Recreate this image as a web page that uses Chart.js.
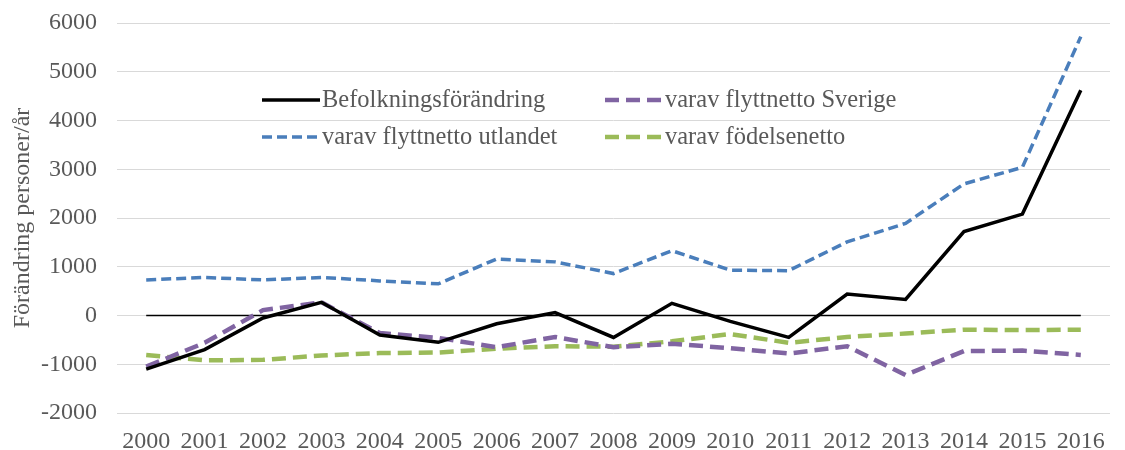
<!DOCTYPE html>
<html>
<head>
<meta charset="utf-8">
<script src="https://cdn.jsdelivr.net/npm/chart.js@4"></script>
<style>
  html, body { margin: 0; padding: 0; background: #fff; }
  #wrap { width: 1125px; height: 450px; }
</style>
</head>
<body>
<div id="wrap"><canvas id="chart" width="1125" height="450"></canvas></div>
<script>
const years = ["2000","2001","2002","2003","2004","2005","2006","2007","2008","2009","2010","2011","2012","2013","2014","2015","2016"];
const befolkning = [-1100, -700, -50, 270, -400, -550, -170, 60, -450, 250, -120, -450, 440, 330, 1720, 2080, 4620];
const flyttSverige = [-1050, -560, 110, 270, -360, -460, -650, -440, -650, -580, -670, -780, -630, -1220, -730, -720, -810];
const flyttUtland = [730, 780, 730, 780, 710, 650, 1160, 1100, 860, 1330, 930, 920, 1510, 1890, 2700, 3040, 5720];
const fodelsenetto = [-810, -920, -910, -820, -770, -760, -680, -630, -640, -530, -380, -560, -440, -370, -290, -300, -290];
const zeroLine = [0, 0, 0, 0, 0, 0, 0, 0, 0, 0, 0, 0, 0, 0, 0, 0, 0];
const yTicks = [-2000, -1000, 0, 1000, 2000, 3000, 4000, 5000, 6000];

const serif = "'Liberation Serif', 'Times New Roman', serif";
const textColor = "#595959";

// legend drawn inside the plot, 2 x 2 like the Excel original
const insideLegend = {
  id: "insideLegend",
  afterDatasetsDraw(chart) {
    const ctx = chart.ctx;
    const cols = [262, 605];
    const rows = [100, 137];
    const items = chart.data.datasets.filter(d => d.label);
    ctx.save();
    ctx.font = "24.5px " + serif;
    ctx.textBaseline = "middle";
    ctx.fillStyle = textColor;
    items.forEach((ds, i) => {
      const x = cols[i % 2];
      const y = rows[Math.floor(i / 2)];
      ctx.beginPath();
      ctx.strokeStyle = ds.borderColor;
      ctx.lineWidth = ds.borderWidth;
      ctx.setLineDash(ds.borderDash || []);
      ctx.moveTo(x, y);
      ctx.lineTo(x + 58, y);
      ctx.stroke();
      ctx.setLineDash([]);
      ctx.fillText(ds.label, x + 60, y + 1);
    });
    ctx.restore();
  }
};

const ctx = document.getElementById("chart").getContext("2d");
new Chart(ctx, {
  type: "line",
  data: {
    labels: years,
    datasets: [
      { label: "", data: zeroLine, borderColor: "#000", borderWidth: 1.5, order: 5 },
      { label: "Befolkningsförändring", data: befolkning, borderColor: "#000000", borderWidth: 3.5 },
      { label: "varav flyttnetto Sverige", data: flyttSverige, borderColor: "#8064a2", borderWidth: 4.5, borderDash: [14, 7] },
      { label: "varav flyttnetto utlandet", data: flyttUtland, borderColor: "#4a7ebb", borderWidth: 3.5, borderDash: [10, 5] },
      { label: "varav födelsenetto", data: fodelsenetto, borderColor: "#9bbb59", borderWidth: 4.5, borderDash: [14, 7] }
    ]
  },
  options: {
    responsive: false,
    animation: false,
    layout: { padding: { left: 0, top: 23, right: 15, bottom: 0 } },
    elements: {
      point: { radius: 0, hoverRadius: 0 },
      line: { tension: 0, fill: false, borderCapStyle: "butt" }
    },
    plugins: {
      legend: { display: false },
      tooltip: { enabled: false }
    },
    scales: {
      x: {
        offset: true,
        grid: { display: false },
        border: { display: false },
        ticks: { color: textColor, font: { family: serif, size: 24 }, padding: 6, maxRotation: 0, autoSkip: false },
        afterFit(scale) { scale.height = 37; }
      },
      y: {
        min: -2000,
        max: 6000,
        afterBuildTicks(scale) { scale.ticks = yTicks.map(v => ({ value: v })); },
        grid: { color: "#d9d9d9", lineWidth: 1, drawTicks: false },
        border: { display: false },
        ticks: { color: textColor, font: { family: serif, size: 24 }, padding: 20, callback: v => String(v) },
        title: { display: true, text: "Förändring personer/år", color: textColor, font: { family: serif, size: 24 }, padding: { top: 8, bottom: 0 } },
        afterFit(scale) {
          scale.width = 117;
          scale.paddingTop = 0;
          scale.paddingBottom = 0;
        }
      }
    }
  },
  plugins: [insideLegend]
});
</script>
</body>
</html>
